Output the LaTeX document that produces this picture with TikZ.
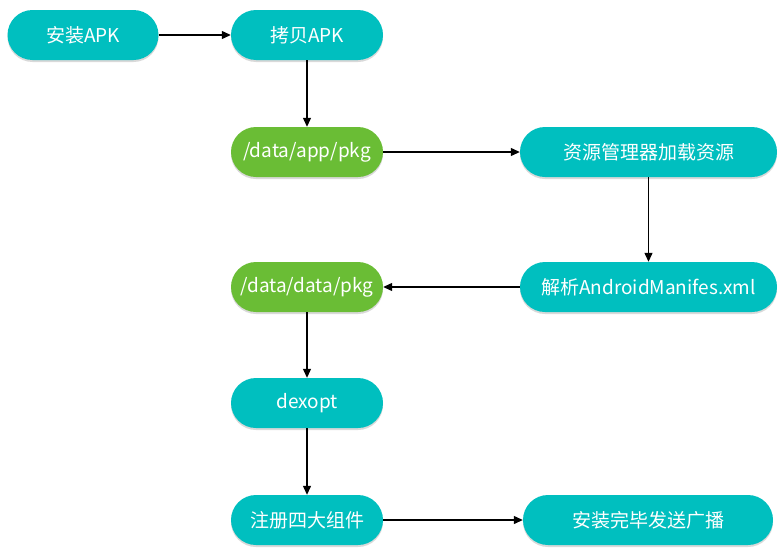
\documentclass[tikz,border=0pt]{standalone}
\usepackage{fontspec}
\setmainfont{Noto Sans CJK SC}
\usetikzlibrary{arrows.meta,shadows}
\definecolor{tealbox}{HTML}{00BFBF}
\definecolor{greenbox}{HTML}{6ABD35}
\tikzset{
  x=1pt, y=-1pt,
  pill/.style={rounded corners=25pt, draw=none, fill=tealbox, text=white,
    minimum height=50pt, inner sep=0pt, font=\fontsize{19}{21}\selectfont,
    drop shadow={shadow xshift=0pt, shadow yshift=-2pt, opacity=0.25, fill=black!60}},
  greenpill/.style={pill, fill=greenbox},
  flow/.style={-{Triangle[length=9pt,width=8pt]}, line width=1.2pt, black}
}
\begin{document}
\begin{tikzpicture}
\useasboundingbox (0,0) rectangle (781,557);
\node[pill, minimum width=151pt] (install) at (83,35) {安装APK};
\node[pill, minimum width=152pt] (copy) at (307,35) {拷贝APK};
\node[greenpill, minimum width=152pt] (apppkg) at (307,152) {/data/app/pkg};
\node[pill, minimum width=257pt] (res) at (648.5,152) {资源管理器加载资源};
\node[pill, minimum width=257pt] (manifest) at (648.5,287) {解析AndroidManifes.xml};
\node[greenpill, minimum width=152pt] (datapkg) at (307,287) {/data/data/pkg};
\node[pill, minimum width=152pt] (dexopt) at (307,403) {dexopt};
\node[pill, minimum width=152pt] (register) at (307,520) {注册四大组件};
\node[pill, minimum width=250pt] (broadcast) at (648,520) {安装完毕发送广播};
\draw[flow] (install) -- (copy);
\draw[flow] (copy) -- (apppkg);
\draw[flow] (apppkg) -- (res);
\draw[flow] (res) -- (manifest);
\draw[flow] (manifest) -- (datapkg);
\draw[flow] (datapkg) -- (dexopt);
\draw[flow] (dexopt) -- (register);
\draw[flow] (register) -- (broadcast);
\end{tikzpicture}
\end{document}
